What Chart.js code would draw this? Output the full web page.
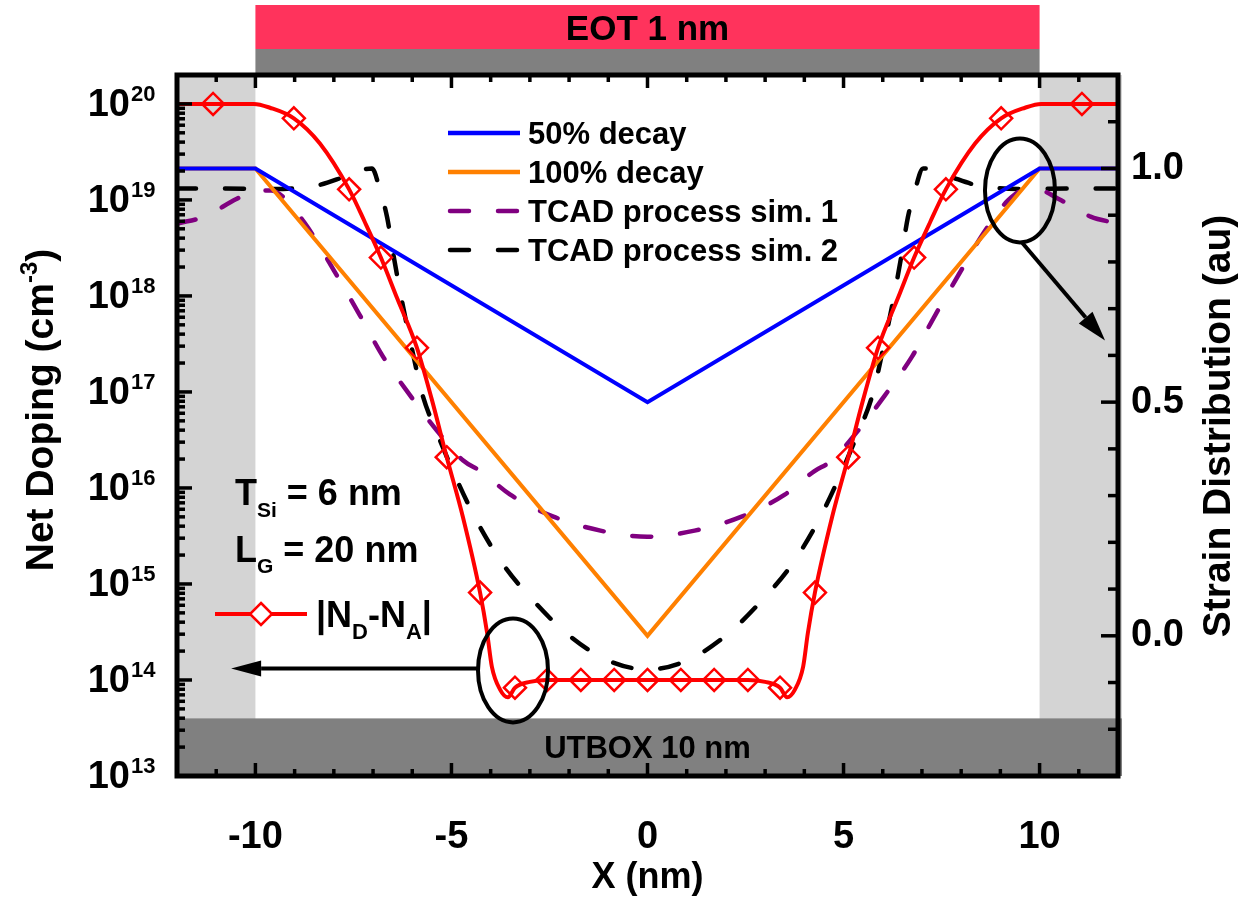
<!DOCTYPE html>
<html>
<head>
<meta charset="utf-8">
<script src="https://cdn.jsdelivr.net/npm/chart.js"></script>
<style>
  body { margin: 0; background: #fff; }
  #wrap { width: 1252px; height: 897px; }
</style>
</head>
<body>
<div id="wrap"><canvas id="chart" width="1252" height="897"></canvas></div>
<script>
// |ND-NA| profile (x in nm, value as log10 of cm^-3)
const xRed = [-12, -11.08, -10.04, -9.63, -9.02, -8.36, -7.61, -7.21, -6.80, -6.39,
  -5.88, -5.50, -5.12, -4.71, -4.27, -4.09, -3.97, -3.76, -3.56, -3.38,
  -3.00, -2.56, -1.70, -0.85, 0, 0.85, 1.70, 2.56, 3.00, 3.38,
  3.56, 3.76, 3.97, 4.09, 4.27, 4.71, 5.12, 5.50, 5.88, 6.39,
  6.80, 7.21, 7.61, 8.36, 9.02, 9.63, 10.04, 11.08, 12];
const redExp = [20.0, 20.0, 20.0, 19.96, 19.85, 19.59, 19.11, 18.77, 18.40, 17.98,
  17.46, 16.92, 16.32, 15.70, 14.91, 14.49, 14.14, 13.90, 13.82, 13.92,
  13.98, 14.0, 14.0, 14.0, 14.0, 14.0, 14.0, 14.0, 13.98, 13.92,
  13.82, 13.90, 14.14, 14.49, 14.91, 15.70, 16.32, 16.92, 17.46, 17.98,
  18.40, 18.77, 19.11, 19.59, 19.85, 19.96, 20.0, 20.0, 20.0];

// diamond markers on the |ND-NA| curve
const xMark = [-11.08, -9.02, -7.61, -6.80, -5.88, -5.12, -4.27, -3.38, -2.56, -1.70, -0.85, 0,
  0.85, 1.70, 2.56, 3.38, 4.27, 5.12, 5.88, 6.80, 7.61, 9.02, 11.08];
const markExp = [20.0, 19.85, 19.11, 18.40, 17.46, 16.32, 14.91, 13.92, 14.0, 14.0, 14.0, 14.0,
  14.0, 14.0, 14.0, 13.92, 14.91, 16.32, 17.46, 18.40, 19.11, 19.85, 20.0];

// strain profiles (right axis, au)
const xDecay = [-12, -10, 0, 10, 12];
const decay50 = [1, 1, 0.5, 1, 1];
const decay100 = [1, 1, 0, 1, 1];

const xSim1 = [-12, -11.3, -10.5, -10, -9.6, -9.2, -8.75, -8.45, -8, -7.35, -6.75, -6.05, -5.35,
  -4.7, -4.25, -3.5, -2.4, -1.2, 0, 1.2, 2.4, 3.5, 4.25, 4.7, 5.35, 6.05, 6.75, 7.35, 8,
  8.45, 8.75, 9.2, 9.6, 10, 10.5, 11.3, 12];
const sim1 = [0.882, 0.897, 0.934, 0.953, 0.953, 0.932, 0.884, 0.846, 0.782, 0.688, 0.598, 0.514, 0.437,
  0.375, 0.352, 0.302, 0.255, 0.225, 0.212, 0.225, 0.255, 0.302, 0.352, 0.375, 0.437, 0.514, 0.598, 0.688, 0.782,
  0.846, 0.884, 0.932, 0.953, 0.953, 0.934, 0.897, 0.882];

const xSim2 = [-12, -10.85, -9.63, -8.41, -7.84, -7.33, -7.03, -6.82, -6.64, -6.49,
  -6.26, -6.01, -5.75, -5.32, -4.83, -4.32, -3.66, -2.92, -2.05, -1.03, 0,
  1.03, 2.05, 2.92, 3.66, 4.32, 4.83, 5.32, 5.75, 6.01, 6.26,
  6.49, 6.64, 6.82, 7.03, 7.33, 7.84, 8.41, 9.63, 10.85, 12];
const sim2 = [0.957, 0.957, 0.956, 0.964, 0.979, 0.996, 1.0, 0.953, 0.895, 0.820,
  0.715, 0.615, 0.519, 0.424, 0.328, 0.240, 0.150, 0.076, 0.004, -0.052, -0.072,
  -0.052, 0.004, 0.076, 0.150, 0.240, 0.328, 0.424, 0.519, 0.615, 0.715,
  0.820, 0.895, 0.953, 1.0, 0.996, 0.979, 0.964, 0.956, 0.957, 0.957];

// axes / ticks
const xTicks = [-10, -5, 0, 5, 10];
const yTickExps = [13, 14, 15, 16, 17, 18, 19, 20];
const y2Ticks = [0.0, 0.5, 1.0];
const gateEdges = [-10, 10];   // EOT / spacer boundaries (nm)
const boxTopExp = 13.6;         // top of UTBOX band

const FONT = '"Liberation Sans", Arial, sans-serif';
const pts = (xs, ys) => xs.map((x, i) => ({ x: x, y: ys[i] }));
const logPts = (xs, es) => xs.map((x, i) => ({ x: x, y: Math.pow(10, es[i]) }));

function line(ctx, x1, y1, x2, y2) {
  ctx.beginPath(); ctx.moveTo(x1, y1); ctx.lineTo(x2, y2); ctx.stroke();
}
function rich(ctx, x, y, parts) {
  parts.forEach(p => {
    ctx.font = 'bold ' + p.size + 'px ' + FONT;
    ctx.fillText(p.t, x, y + (p.dy || 0));
    x += ctx.measureText(p.t).width;
  });
}
function richWidth(ctx, parts) {
  let w = 0;
  parts.forEach(p => { ctx.font = 'bold ' + p.size + 'px ' + FONT; w += ctx.measureText(p.t).width; });
  return w;
}
function arrow(ctx, x1, y1, x2, y2, len, half) {
  const a = Math.atan2(y2 - y1, x2 - x1);
  const bx = x2 - len * Math.cos(a), by = y2 - len * Math.sin(a);
  line(ctx, x1, y1, bx, by);
  ctx.beginPath();
  ctx.moveTo(x2, y2);
  ctx.lineTo(bx + half * Math.sin(a), by - half * Math.cos(a));
  ctx.lineTo(bx - half * Math.sin(a), by + half * Math.cos(a));
  ctx.closePath(); ctx.fill();
}

const deco = {
  id: 'deco',
  beforeDatasetsDraw(chart) {
    const { ctx, chartArea: a, scales: { x, y } } = chart;
    const xl = x.getPixelForValue(gateEdges[0]), xr = x.getPixelForValue(gateEdges[1]);
    ctx.save();
    ctx.fillStyle = '#d4d4d4';
    ctx.fillRect(a.left, a.top, xl - a.left, a.bottom - a.top);
    ctx.fillRect(xr, a.top, a.right + 4 - xr, a.bottom - a.top);
    const yb = y.getPixelForValue(Math.pow(10, boxTopExp));
    ctx.fillStyle = '#808080';
    ctx.fillRect(a.left, yb, a.right + 4 - a.left, a.bottom - yb);
    // gate stack above the frame
    ctx.fillStyle = '#ff335c';
    ctx.fillRect(xl, 5, xr - xl, 44);
    ctx.fillStyle = '#808080';
    ctx.fillRect(xl, 49, xr - xl, a.top - 49);
    ctx.fillStyle = '#000';
    ctx.textAlign = 'center'; ctx.textBaseline = 'middle';
    ctx.font = 'bold 35px ' + FONT;
    ctx.fillText('EOT 1 nm', (xl + xr) / 2, 30);
    ctx.font = 'bold 31px ' + FONT;
    ctx.fillText('UTBOX 10 nm', x.getPixelForValue(0), (yb + a.bottom) / 2 + 2);
    ctx.restore();
  },
  afterDraw(chart) {
    const { ctx, chartArea: a, scales: { x, y, y2 } } = chart;
    ctx.save();
    ctx.strokeStyle = '#000'; ctx.fillStyle = '#000';
    ctx.lineCap = 'butt';

    // ticks (inward)
    ctx.lineWidth = 3.5;
    for (let v = x.min + 1; v < x.max; v++) {
      const px = x.getPixelForValue(v);
      const len = xTicks.includes(v) ? 13 : 7;
      line(ctx, px, a.bottom, px, a.bottom - len);
      line(ctx, px, a.top, px, a.top + len);
    }
    yTickExps.forEach(e => {
      for (let m = 1; m <= 9; m++) {
        const v = m * Math.pow(10, e);
        if (v >= y.max) continue;
        const py = y.getPixelForValue(v);
        line(ctx, a.left, py, a.left + (m === 1 ? 15 : 8), py);
      }
    });
    for (let k = -2; k <= 11; k++) {
      const v = k / 10;
      const py = y2.getPixelForValue(v);
      line(ctx, a.right, py, a.right - (k % 5 === 0 ? 17 : 10), py);
    }

    // frame
    ctx.lineWidth = 5;
    ctx.strokeRect(a.left, a.top, a.right - a.left, a.bottom - a.top);

    // tick labels
    ctx.textAlign = 'center'; ctx.textBaseline = 'middle';
    ctx.font = 'bold 38px ' + FONT;
    xTicks.forEach(v => ctx.fillText(String(v), x.getPixelForValue(v), 838));
    yTickExps.forEach(e => {
      const py = y.getPixelForValue(Math.pow(10, e));
      ctx.textAlign = 'right'; ctx.textBaseline = 'middle';
      ctx.font = 'bold 38px ' + FONT;
      ctx.fillText('10', 130, py + 2);
      ctx.textAlign = 'left'; ctx.textBaseline = 'alphabetic';
      ctx.font = 'bold 22px ' + FONT;
      ctx.fillText(String(e), 131, py - 3);
    });
    ctx.textAlign = 'left'; ctx.textBaseline = 'middle';
    ctx.font = 'bold 38px ' + FONT;
    y2Ticks.forEach(v => ctx.fillText(v.toFixed(1), 1131, y2.getPixelForValue(v)));

    // axis titles
    ctx.textAlign = 'center'; ctx.textBaseline = 'middle';
    ctx.font = 'bold 36px ' + FONT;
    ctx.fillText('X (nm)', x.getPixelForValue(0), 878);

    ctx.textBaseline = 'alphabetic'; ctx.textAlign = 'left';
    const yt = [{ t: 'Net Doping (cm', size: 39 }, { t: '-3', size: 24, dy: -16 }, { t: ')', size: 39 }];
    ctx.save();
    ctx.translate(53, 410); ctx.rotate(-Math.PI / 2);
    rich(ctx, -richWidth(ctx, yt) / 2, 0, yt);
    ctx.restore();
    ctx.save();
    ctx.translate(1230, 426); ctx.rotate(-Math.PI / 2);
    ctx.textAlign = 'center';
    ctx.font = 'bold 39px ' + FONT;
    ctx.fillText('Strain Distribution (au)', 0, 0);
    ctx.restore();

    // legend for the strain curves
    const ds = chart.data.datasets;
    ctx.lineWidth = 4.5;
    [2, 3, 4, 5].forEach((di, i) => {
      const d = ds[di];
      const ly = 133 + i * 39;
      ctx.strokeStyle = d.borderColor;
      ctx.setLineDash(d.borderDash || []);
      ctx.lineCap = d.borderDash ? 'round' : 'butt';
      line(ctx, d.borderDash ? 450 : 448, ly, d.borderDash ? 518 : 520, ly);
      ctx.setLineDash([]);
      ctx.fillStyle = '#000';
      ctx.font = 'bold 31px ' + FONT;
      ctx.fillText(d.label, 528, ly + 11);
    });
    ctx.lineCap = 'butt';

    // annotations
    ctx.fillStyle = '#000';
    rich(ctx, 235, 505, [{ t: 'T', size: 36 }, { t: 'Si', size: 21, dy: 12 }, { t: ' = 6 nm', size: 36 }]);
    rich(ctx, 235, 562, [{ t: 'L', size: 36 }, { t: 'G', size: 21, dy: 11 }, { t: ' = 20 nm', size: 36 }]);
    ctx.strokeStyle = '#ff0000'; ctx.lineWidth = 4;
    line(ctx, 215, 614, 307, 614);
    ctx.beginPath();
    ctx.moveTo(261, 603); ctx.lineTo(272, 614); ctx.lineTo(261, 625); ctx.lineTo(250, 614); ctx.closePath();
    ctx.fillStyle = '#fff'; ctx.fill();
    ctx.lineWidth = 2.5; ctx.stroke();
    ctx.fillStyle = '#000';
    rich(ctx, 316, 627, [{ t: '|N', size: 36 }, { t: 'D', size: 22, dy: 12 }, { t: '-N', size: 36 },
      { t: 'A', size: 22, dy: 12 }, { t: '|', size: 36 }]);

    // ellipses and arrows
    ctx.strokeStyle = '#000'; ctx.lineWidth = 4;
    const ex1 = x.getPixelForValue(-3.43), ey1 = y.getPixelForValue(Math.pow(10, 14.1));
    ctx.beginPath(); ctx.ellipse(ex1, ey1, 35, 52, 0, 0, Math.PI * 2); ctx.stroke();
    arrow(ctx, ex1 - 35, ey1 - 2, x.getPixelForValue(-10.62), ey1 - 2, 30, 8);
    const ex2 = x.getPixelForValue(9.5), ey2 = y2.getPixelForValue(0.953);
    ctx.beginPath(); ctx.ellipse(ex2, ey2, 35, 52, 0, 0, Math.PI * 2); ctx.stroke();
    arrow(ctx, ex2 + 2, ey2 + 52, x.getPixelForValue(11.67), y2.getPixelForValue(0.632), 30, 9);
    ctx.restore();
  }
};

const dash = [19, 29];
new Chart(document.getElementById('chart'), {
  type: 'line',
  data: {
    datasets: [
      { label: 'markers', data: logPts(xMark, markExp), yAxisID: 'y', showLine: false,
        pointStyle: 'rectRot', pointRadius: 11, pointBorderWidth: 2.5,
        pointBorderColor: '#ff0000', pointBackgroundColor: 'rgba(255,255,255,0)' },
      { label: '|ND-NA|', data: logPts(xRed, redExp), yAxisID: 'y', borderColor: '#ff0000',
        borderWidth: 4, pointRadius: 0, cubicInterpolationMode: 'monotone' },
      { label: '50% decay', data: pts(xDecay, decay50), yAxisID: 'y2', borderColor: '#0000ff',
        borderWidth: 4, pointRadius: 0 },
      { label: '100% decay', data: pts(xDecay, decay100), yAxisID: 'y2', borderColor: '#ff8000',
        borderWidth: 4, pointRadius: 0 },
      { label: 'TCAD process sim. 1', data: pts(xSim1, sim1), yAxisID: 'y2', borderColor: '#800080',
        borderWidth: 4.5, borderDash: dash, borderCapStyle: 'round', pointRadius: 0,
        cubicInterpolationMode: 'monotone' },
      { label: 'TCAD process sim. 2', data: pts(xSim2, sim2), yAxisID: 'y2', borderColor: '#000000',
        borderWidth: 4.5, borderDash: dash, borderCapStyle: 'round', pointRadius: 0,
        cubicInterpolationMode: 'monotone' }
    ]
  },
  options: {
    responsive: false,
    animation: false,
    devicePixelRatio: 1,
    layout: { padding: { top: 75, left: 0, right: 0, bottom: 0 } },
    plugins: { legend: { display: false }, tooltip: { enabled: false } },
    scales: {
      x: { type: 'linear', min: -12, max: 12, position: 'bottom',
        ticks: { display: false }, grid: { display: false }, border: { display: false },
        afterFit: s => { s.height = 121; } },
      y: { type: 'logarithmic', min: 1e13, max: 2e20, position: 'left',
        ticks: { display: false }, grid: { display: false }, border: { display: false },
        afterFit: s => { s.width = 177; } },
      y2: { type: 'linear', min: -0.3, max: 1.2, position: 'right',
        ticks: { display: false }, grid: { display: false }, border: { display: false },
        afterFit: s => { s.width = 134; } }
    }
  },
  plugins: [deco]
});
</script>
</body>
</html>
